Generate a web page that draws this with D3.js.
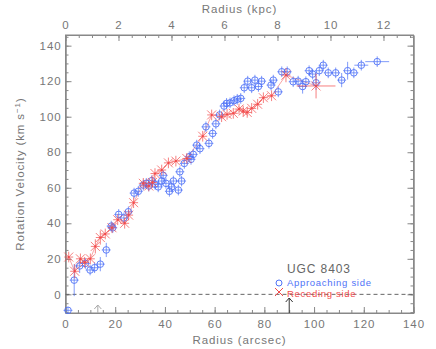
<!DOCTYPE html>
<html><head><meta charset="utf-8">
<script src="https://cdn.jsdelivr.net/npm/d3@7"></script>
<style>body{margin:0;background:#fff}svg{display:block}text{font-family:"Liberation Sans",Arial,sans-serif}</style>
</head><body><svg id="c" width="436" height="349"></svg>
<script>
// Approaching side (blue circles): radius (arcsec), velocity (km/s), velocity error
const appR = [1,3.5,5.7,8,9.9,11.7,14,16.4,18.4,19,21.4,23.5,25.3,27.6,29.3,31.3,32.5,33.5,34.7,36,37.3,38.7,39.3,40.4,41.8,42.7,43.4,45.4,46,46.7,47.8,49.8,50.5,51.4,52.8,54.1,56.5,57.7,59.2,60.5,62,63.8,64.8,66.2,67.8,69.1,70.5,71.9,73.3,74.9,76.2,77.6,78.9,82.7,83.6,85.6,87,89.2,91.6,93.6,95.4,96.7,98,99.4,100.8,102.1,103.7,105.7,108.7,111.1,113.5,116,119,125.4];
const appV = [-9,8,16,17.4,13.7,15,17,25,38.4,37.5,45,43,46.5,57,58,61.5,62.5,61,64,62,60.5,63.8,67,62.5,58,60.5,63.8,58.7,69,63.8,73.7,77.5,76,78.8,84,82,94.3,85,90.6,96,101,106,107.5,107.8,109,109.8,110.3,116.3,120,116.3,120.6,117,120,117.8,120.6,114,125.3,125.3,119.7,120,117,119.7,125.9,124,119.1,125.9,129,124.7,124.7,120.6,125.9,124.7,129,131];
const appE = [2,9,4,3,3,3,4,4,3,3,3,3,3,3,3,3,3,3,3,3,3,3,3,3,3,3,3,3,3,3,3,3,3,3,3,3,3,3,3,3,3,3,3,3,3,3,3,3,3,3,3,3,3,3,3,3,3,3,3,3,4,3,3,3,4,3,3,3,3,4,5,3,3,3];
const appXE = [1,1,1,1,1,1,1,1,1,1,1,1,1,1,1,1,1,1,1,1,1,1,1,1,1,1,1,1,1,1,1,1,1,1,1,1,1,1,1,1,1,1,1,1,1,1,1,1,1,1,1,1,1,1,1,1,1,1,1,1,1,1,1,1,1,1,1,1,1,1,1,1,2,4];
// Receding side (red crosses)
const recR = [1.3,3.7,6,7.7,10,12,14,16,18.7,21,23.8,25.4,27.4,31.3,33.5,35,36,38.7,41.4,44.4,48.8,55.2,58.8,62.8,65,67.5,69.8,71.5,73.1,74.9,77.3,79.6,82.9,88.7,100.8];
const recV = [21,13,20,18,20,27,32,34,37.5,42,40,44.6,51.6,62.5,61,63,68,70,74,75,76.5,89,101,100,101.3,101.9,104.3,103.2,102.4,104.7,107,110.7,111.8,123.4,117.3];
const recE = [3,4,3,3,3,4,4,3,3,3,3,3,3,3,3,3,3,3,3,3,3,3,3,3,3,3,3,3,3,3,3,3,3,4,7];
const recXE = [1,1,1,1,1,1,1,1,1,1,1,1,1,1,1,1,1,1,1,1,1,1,1,1,1,1,1,1,1,1,1,1,1,1,7];
const xTicks = [0,20,40,60,80,100,120,140];
const kpcTicks = [0,2,4,6,8,10,12];
const yTicks = [0,20,40,60,80,100,120,140];
const arcsecPerKpc = 10.66;
const title = "UGC 8403";
const seriesNames = ["Approaching side","Receding side"];

const svg = d3.select("#c");
const L=65.5,R=413.5,T=35,B=313;
const x = d3.scaleLinear([0,140],[L,R]);
const xk = d3.scaleLinear([0,140/arcsecPerKpc],[L,R]);
const y = d3.scaleLinear([-10.5,146],[B,T]);
const axCol="#888", txtCol="#777";
const blue="#5073f7", red="#f24a4a";
const FS=11.5, LS=0.9;

function styleAxis(g){g.select(".domain").attr("stroke",axCol);g.selectAll(".tick line").attr("stroke",axCol);g.selectAll("text").attr("fill",txtCol).attr("font-size",FS).attr("letter-spacing",LS);}
// bottom
svg.append("g").attr("transform",`translate(0,${B})`).call(d3.axisBottom(x).tickValues(d3.range(0,141,5)).tickFormat("").tickSize(-3).tickSizeOuter(0)).call(styleAxis);
svg.append("g").attr("transform",`translate(0,${B})`).call(d3.axisBottom(x).tickValues(xTicks).tickSize(-6).tickPadding(7).tickSizeOuter(0)).call(styleAxis);
// top
svg.append("g").attr("transform",`translate(0,${T})`).call(d3.axisTop(xk).tickValues(d3.range(0,13.1,0.5)).tickFormat("").tickSize(-3).tickSizeOuter(0)).call(styleAxis);
svg.append("g").attr("transform",`translate(0,${T})`).call(d3.axisTop(xk).tickValues(kpcTicks).tickSize(-6).tickPadding(6).tickSizeOuter(0)).call(styleAxis);
// left
svg.append("g").attr("transform",`translate(${L},0)`).call(d3.axisLeft(y).tickValues(d3.range(-10,146,5)).tickFormat("").tickSize(-3).tickSizeOuter(0)).call(styleAxis);
svg.append("g").attr("transform",`translate(${L},0)`).call(d3.axisLeft(y).tickValues(yTicks).tickSize(-6).tickPadding(4).tickSizeOuter(0)).call(styleAxis);
// right
svg.append("g").attr("transform",`translate(${R},0)`).call(d3.axisRight(y).tickValues(d3.range(-10,146,5)).tickFormat("").tickSize(-3).tickSizeOuter(0)).call(styleAxis);
svg.append("g").attr("transform",`translate(${R},0)`).call(d3.axisRight(y).tickValues(yTicks).tickFormat("").tickSize(-6).tickSizeOuter(0)).call(styleAxis);
svg.append("rect").attr("x",L).attr("y",T).attr("width",R-L).attr("height",B-T).attr("fill","none").attr("stroke",axCol);

// titles
svg.append("text").attr("x",(L+R)/2).attr("y",344).attr("text-anchor","middle").attr("fill",txtCol).attr("font-size",FS).attr("letter-spacing",LS).text("Radius (arcsec)");
svg.append("text").attr("x",(L+R)/2).attr("y",13).attr("text-anchor","middle").attr("fill",txtCol).attr("font-size",FS).attr("letter-spacing",LS).text("Radius (kpc)");
const yt = svg.append("text").attr("transform",`translate(24,${(T+B)/2}) rotate(-90)`).attr("text-anchor","middle").attr("fill",txtCol).attr("font-size",FS).attr("letter-spacing",LS);
yt.append("tspan").text("Rotation Velocity (km s");
yt.append("tspan").attr("dy",-4).attr("font-size",8).text("−1");
yt.append("tspan").attr("dy",4).text(")");

// zero line
svg.append("line").attr("x1",L).attr("x2",R).attr("y1",y(0)).attr("y2",y(0)).attr("stroke","#666").attr("stroke-dasharray","4,3");

// arrows
function arrow(xv,len,col){const px=x(xv);const g=svg.append("g").attr("stroke",col).attr("fill","none");
 g.append("line").attr("x1",px).attr("x2",px).attr("y1",B).attr("y2",B-len);
 g.append("path").attr("d",`M${px-3.5},${B-len+4}L${px},${B-len}L${px+3.5},${B-len+4}`);}
arrow(13,8,"#aaa");
arrow(90,15,"#333");

const rec = recR.map((r,i)=>({r,v:recV[i],e:recE[i],xe:recXE[i]}));
const app = appR.map((r,i)=>({r,v:appV[i],e:appE[i],xe:appXE[i]}));
svg.append("path").datum(rec).attr("d",d3.line().x(d=>x(d.r)).y(d=>y(d.v))).attr("fill","none").attr("stroke",red).attr("stroke-opacity",0.5).attr("stroke-width",1);

const ga = svg.append("g").attr("stroke",blue).attr("fill","none").attr("stroke-width",0.9);
app.forEach(d=>{const px=x(d.r),py=y(d.v);
 ga.append("line").attr("x1",px).attr("x2",px).attr("y1",y(d.v-d.e)).attr("y2",y(d.v+d.e)).attr("stroke-opacity",0.8);
 ga.append("line").attr("x1",x(d.r-d.xe)-2).attr("x2",x(d.r+d.xe)+2).attr("y1",py).attr("y2",py).attr("stroke-opacity",0.8);
 ga.append("circle").attr("cx",px).attr("cy",py).attr("r",3.3);
});
const gr = svg.append("g").attr("stroke",red).attr("fill","none").attr("stroke-width",1).attr("stroke-opacity",0.7);
rec.forEach(d=>{const px=x(d.r),py=y(d.v);
 gr.append("line").attr("x1",px).attr("x2",px).attr("y1",y(d.v-d.e)).attr("y2",y(d.v+d.e));
 gr.append("line").attr("x1",x(d.r-d.xe)-2).attr("x2",x(d.r+d.xe)+2).attr("y1",py).attr("y2",py);
 gr.append("path").attr("d",`M${px-4.5},${py-4.5}L${px+4.5},${py+4.5}M${px-4.5},${py+4.5}L${px+4.5},${py-4.5}`);
 gr.append("circle").attr("cx",px).attr("cy",py).attr("r",1).attr("fill",red).attr("stroke","none");
});

// legend
svg.append("text").attr("x",287).attr("y",273).attr("fill","#666").attr("font-size",12).attr("letter-spacing",0.9).text(title);
svg.append("circle").attr("cx",279).attr("cy",283).attr("r",3).attr("fill","none").attr("stroke",blue);
svg.append("text").attr("x",287).attr("y",286).attr("fill",blue).attr("font-size",9.5).attr("letter-spacing",0.7).text(seriesNames[0]);
svg.append("path").attr("d","M275,288L283,296M275,296L283,288").attr("stroke",red).attr("fill","none");
svg.append("text").attr("x",287).attr("y",297).attr("fill",red).attr("font-size",9.5).attr("letter-spacing",0.7).text(seriesNames[1]);
</script></body></html>
